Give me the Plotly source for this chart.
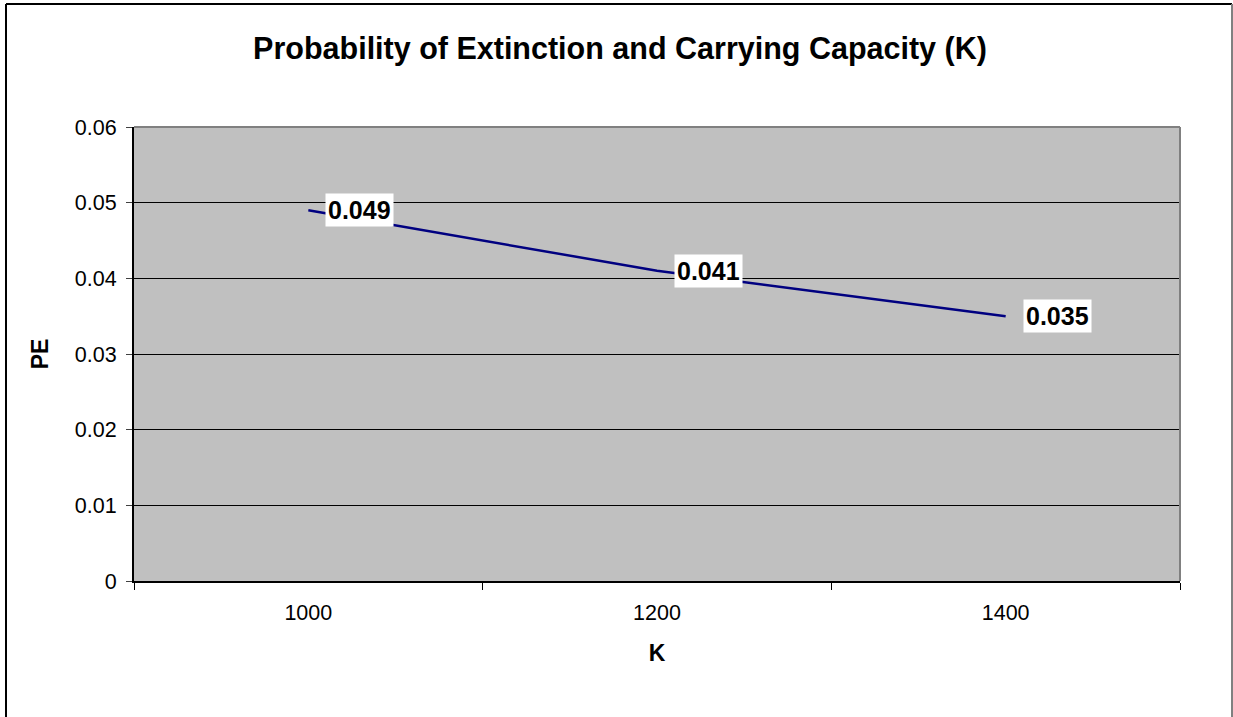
import plotly.graph_objects as go

# Data
K_values = [1000, 1200, 1400]
PE_values = [0.049, 0.041, 0.035]
x_tick_labels = ["1000", "1200", "1400"]
y_tick_vals = [0, 0.01, 0.02, 0.03, 0.04, 0.05, 0.06]
y_tick_text = ["0", "0.01", "0.02", "0.03", "0.04", "0.05", "0.06"]
title_text = "Probability of Extinction and Carrying Capacity (K)"
x_title = "K"
y_title = "PE"

FONT = "Liberation Sans, Arial, sans-serif"

fig = go.Figure()
fig.add_trace(go.Scatter(
    x=K_values, y=PE_values, mode="lines",
    line=dict(color="#000080", width=2.5),
    hoverinfo="x+y", showlegend=False,
))

# data labels with white boxes, to the right of each point
for k, v in zip(K_values, PE_values):
    fig.add_annotation(
        x=k, y=v, xref="x", yref="y",
        text=f"{v:.3f}", showarrow=False,
        xanchor="left", yanchor="middle", xshift=17,
        bgcolor="white", borderpad=2,
        font=dict(family=FONT, size=25, color="black", weight="bold"),
    )

# plot-area border (top/right gray)
fig.add_shape(type="line", xref="paper", yref="paper", x0=0, x1=1, y0=1, y1=1,
              line=dict(color="#808080", width=2))
fig.add_shape(type="line", xref="paper", yref="paper", x0=1, x1=1, y0=0, y1=1,
              line=dict(color="#808080", width=2))

# outer chart frame
fx0, fx1 = (6 - 134) / 1046, (1232 - 134) / 1046
fy1, fy0 = (581 - 4) / 454, (581 - 722) / 454
fig.add_shape(type="line", xref="paper", yref="paper", x0=fx0, x1=fx1, y0=fy1, y1=fy1,
              line=dict(color="black", width=2))
fig.add_shape(type="line", xref="paper", yref="paper", x0=fx0, x1=fx0, y0=fy0, y1=fy1,
              line=dict(color="black", width=2))
fig.add_shape(type="line", xref="paper", yref="paper", x0=fx1, x1=fx1, y0=fy0, y1=fy1,
              line=dict(color="#808080", width=2))

fig.update_layout(
    width=1233, height=717,
    margin=dict(l=134, r=53, t=127, b=136, pad=0),
    paper_bgcolor="white",
    plot_bgcolor="#C0C0C0",
    font=dict(family=FONT, color="black"),
    title=dict(
        text=title_text, x=620 / 1233, xanchor="center", y=1 - 48 / 717, yanchor="middle",
        xref="container", yref="container",
        font=dict(family=FONT, size=30.5, color="black", weight="bold"),
    ),
    xaxis=dict(
        range=[900, 1500],
        tickmode="array", tickvals=K_values, ticktext=x_tick_labels,
        ticks="", ticklabelstandoff=11,
        tickfont=dict(family=FONT, size=21.5, color="black"),
        showgrid=False, zeroline=False,
        showline=True, linecolor="black", linewidth=2,
        minor=dict(tickmode="array", tickvals=[900, 1100, 1300, 1500],
                   ticks="outside", ticklen=7, tickcolor="black", tickwidth=1, showgrid=False),
        title=dict(text=x_title, standoff=21,
                   font=dict(family=FONT, size=23, color="black", weight="bold")),
        fixedrange=True,
    ),
    yaxis=dict(
        range=[0, 0.06],
        tickmode="array", tickvals=y_tick_vals, ticktext=y_tick_text,
        ticks="outside", ticklen=6, tickcolor="#404040", tickwidth=1,
        ticklabelstandoff=5,
        tickfont=dict(family=FONT, size=21.5, color="black"),
        showgrid=True, gridcolor="black", gridwidth=1,
        zeroline=False,
        showline=True, linecolor="black", linewidth=2,
        title=dict(text=y_title, standoff=20,
                   font=dict(family=FONT, size=23, color="black", weight="bold")),
        fixedrange=True,
    ),
)

fig.write_html("out.html", config={"displayModeBar": False},
               post_script="document.body.style.margin='0';document.body.style.padding='0';")
